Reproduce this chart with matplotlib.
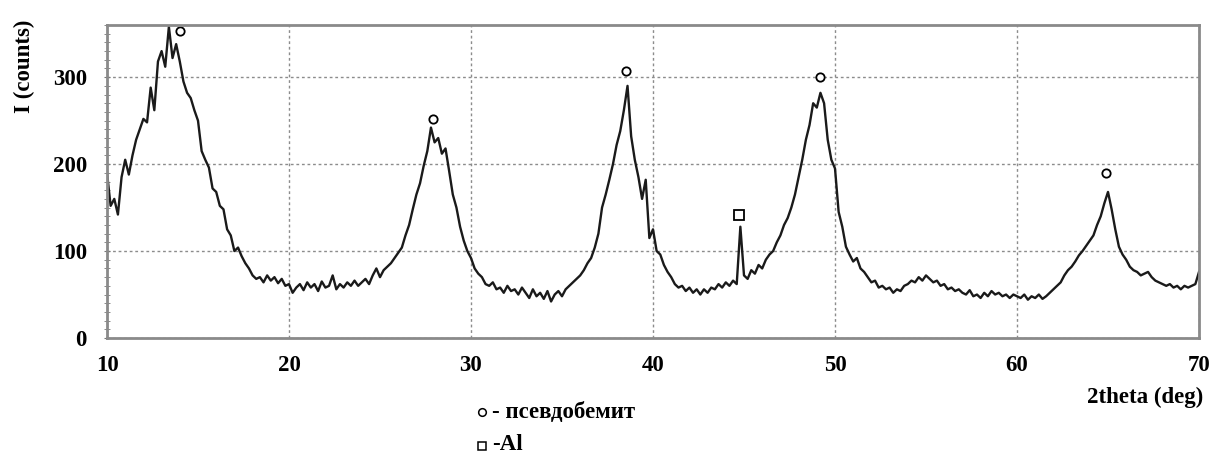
import numpy as np
import matplotlib
matplotlib.use("Agg")
import matplotlib.pyplot as plt
from matplotlib.lines import Line2D
from matplotlib.ticker import MultipleLocator

# ---- data ----
two_theta_start = 10.0
two_theta_step = 0.2
intensity = [
    190, 152, 160, 142, 185, 205, 188, 210, 228, 240, 252,
    248, 288, 262, 318, 330, 312, 358, 322, 338, 318,
    295, 282, 276, 262, 250, 215, 205, 196, 172, 168,
    152, 148, 125, 118, 100, 104, 94, 86, 80, 72,
    68, 70, 64, 72, 66, 70, 63, 68, 60, 62,
    52, 58, 62, 55, 64, 58, 62, 54, 65, 58,
    60, 72, 56, 62, 58, 64, 60, 66, 60, 64,
    68, 62, 72, 80, 70, 78, 82, 86, 92, 98,
    104, 118, 130, 148, 165, 178, 198, 215, 242, 225,
    230, 212, 218, 192, 165, 150, 128, 112, 100, 92,
    80, 74, 70, 62, 60, 64, 56, 58, 52, 60,
    54, 56, 50, 58, 52, 46, 56, 48, 52, 45,
    54, 42, 50, 54, 48, 56, 60, 64, 68, 72,
    78, 86, 92, 104, 120, 150, 165, 182, 200, 222,
    238, 262, 290, 232, 205, 185, 160, 182, 115, 125,
    100, 96, 84, 76, 70, 62, 58, 60, 54, 58,
    52, 56, 50, 56, 52, 58, 56, 62, 58, 64,
    60, 66, 62, 128, 72, 68, 78, 74, 84, 80,
    90, 96, 100, 110, 118, 130, 138, 150, 165, 185,
    205, 228, 245, 270, 265, 282, 270, 228, 205, 195,
    145, 128, 105, 96, 88, 92, 80, 76, 70, 64,
    66, 58, 60, 56, 58, 52, 56, 54, 60, 62,
    66, 64, 70, 66, 72, 68, 64, 66, 60, 62,
    56, 58, 54, 56, 52, 50, 55, 48, 50, 46,
    52, 48, 54, 50, 52, 48, 50, 46, 50, 48,
    46, 50, 44, 48, 46, 50, 45, 48, 52, 56,
    60, 64, 72, 78, 82, 88, 95, 100, 106, 112,
    118, 130, 140, 155, 168, 148, 125, 105, 96, 90,
    82, 78, 76, 72, 74, 76, 70, 66, 64, 62,
    60, 62, 58, 60, 56, 60, 58, 60, 62, 76,
]
two_theta = two_theta_start + two_theta_step * np.arange(len(intensity))

pseudoboehmite_x = [14.0, 27.9, 38.5, 49.2, 64.9]
pseudoboehmite_y = [353, 252, 307, 300, 190]
al_x = [44.7]
al_y = [142]

x_ticks = [10, 20, 30, 40, 50, 60, 70]
y_ticks = [0, 100, 200, 300]

# ---- figure ----
W, H = 1211, 457
fig = plt.figure(figsize=(W / 100, H / 100), dpi=100)
ax = fig.add_axes([107 / W, 1 - 338 / H, (1199 - 107) / W, (338 - 25) / H])

font = {"family": "Liberation Serif", "weight": "bold"}
FS = 16.5

ax.plot(two_theta, intensity, color="#1a1a1a", lw=1.7)
ax.plot(pseudoboehmite_x, pseudoboehmite_y, "o", ms=6, mfc="white", mec="black", mew=1.3)
ax.plot(al_x, al_y, "s", ms=6.5, mfc="white", mec="black", mew=1.3)

ax.set_xlim(10, 70)
ax.set_ylim(0, 360)
ax.set_xticks(x_ticks)
ax.set_yticks(y_ticks)
ax.yaxis.set_minor_locator(MultipleLocator(10))
ax.set_xticklabels([str(v) for v in x_ticks], fontdict=dict(font, size=FS))
ax.set_yticklabels([str(v) for v in y_ticks], fontdict=dict(font, size=FS))
ax.tick_params(axis="x", length=0, pad=12)
ax.tick_params(axis="y", which="major", length=5, direction="inout", pad=12, color="#777")
ax.tick_params(axis="y", which="minor", length=4, direction="inout", color="#777")

ax.grid(True, which="major", color="#8c8c8c", linestyle=(0, (2, 2)), lw=1.0)
for s in ax.spines.values():
    s.set_color("#8a8a8a")
    s.set_linewidth(2)

# axis titles
fig.text(24 / W, 1 - 66 / H, "I (counts)", rotation=90, ha="center", va="center",
         fontdict=dict(font, size=FS))
fig.text(1203 / W, 1 - 397 / H, "2theta (deg)", ha="right", va="center",
         fontdict=dict(font, size=FS))

# marker legend below plot
fig.add_artist(Line2D([482 / W], [1 - 412 / H], marker="o", ms=5.5, mfc="white", mec="black",
                      mew=1.1, transform=fig.transFigure))
fig.text(492 / W, 1 - 412 / H, "- псевдобемит", ha="left", va="center",
         fontdict=dict(font, size=FS))
fig.add_artist(Line2D([482 / W], [1 - 446 / H], marker="s", ms=5.5, mfc="white", mec="black",
                      mew=1.1, transform=fig.transFigure))
fig.text(492 / W, 1 - 445 / H, "-Al", ha="left", va="center",
         fontdict=dict(font, size=FS))

fig.savefig("out.png", dpi=100)
